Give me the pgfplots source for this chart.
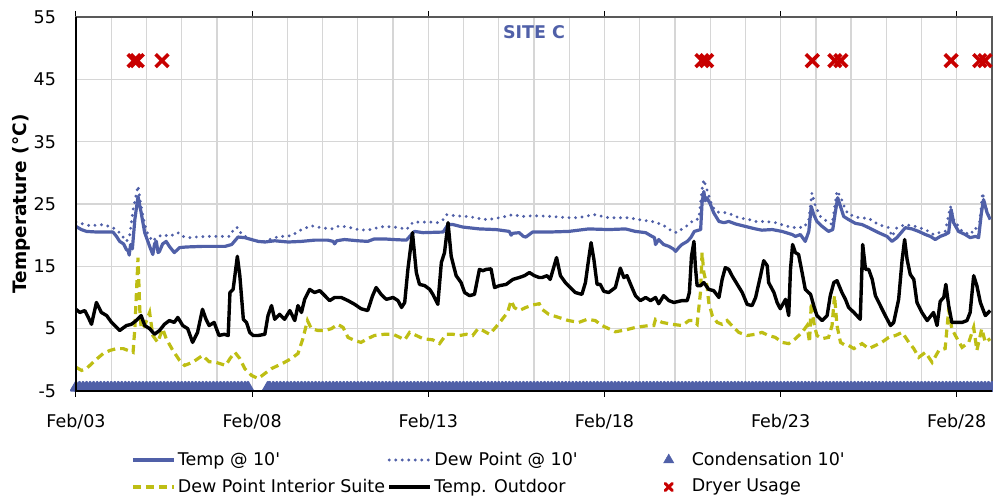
\documentclass[border=0pt]{standalone}
\usepackage{fontspec}
\setmainfont{DejaVu Sans}[Ligatures=TeXOff]
\usepackage{pgfplots}
\pgfplotsset{compat=1.18}
\definecolor{cblue}{RGB}{80,96,168}
\definecolor{cyel}{RGB}{190,190,20}
\definecolor{cred}{RGB}{200,0,0}
\definecolor{cgrid}{RGB}{214,214,214}
\pgfplotsset{
 linelegend/.style={legend image code/.code={\draw[mark repeat=2,mark phase=2,##1] plot coordinates {(0bp,0bp) (20.5bp,0bp) (41bp,0bp)};}},
 condlegend/.style={legend image code/.code={\path[draw=none,fill=none] (0bp,0bp) -- (41bp,0bp); \draw[##1, mark options={line width=0.4bp}, mark size=6bp] plot coordinates {(20.5bp,0bp)};}},
 drylegend/.style={legend image code/.code={\path[draw=none,fill=none] (0bp,0bp) -- (41bp,0bp); \begin{scope}[shift={(20.5bp,0bp)}]\pgfsetlinewidth{3bp}\pgfsetroundcap\pgfsetstrokecolor{cred}\pgfsetplotmarksize{5bp}\pgfuseplotmark{x}\end{scope}}},
}
\begin{document}
\fontsize{17.5bp}{21bp}\selectfont
\begin{tikzpicture}
\begin{axis}[
 name=ax,
 scale only axis, width=916bp, height=374bp,
 xmin=0, xmax=26, ymin=-5, ymax=55,
 xtick={0,5,10,15,20,25},
 xticklabels={Feb/03,Feb/08,Feb/13,Feb/18,Feb/23,Feb/28},
 minor xtick={1,2,3,4,6,7,8,9,11,12,13,14,16,17,18,19,21,22,23,24},
 ytick={-5,5,15,25,35,45,55},
 yticklabels={-5,5,15,25,35,45,55},
 grid=both,
 grid style={cgrid, line width=1.3bp},
 minor grid style={cgrid, line width=1.3bp},
 tick align=outside,
 major tick length=6bp, minor tick length=0pt,
 ytick style={draw=none},
 xtick style={black, line width=1bp},
 axis line style={draw=gray!70!black, line width=1.2bp},
 xticklabel style={yshift=-11bp},
 yticklabel style={xshift=-8bp},
 title={\bfseries SITE C},
 title style={at={(0.5,1)}, anchor=north, yshift=-8bp, text=cblue},
 ylabel={\bfseries Temperature (°C)},
 ylabel style={font=\fontsize{18.5bp}{22bp}\selectfont},
 ylabel shift=-9bp,
 legend columns=3,
 legend cell align=left,
 legend style={at={(0.06,-0.156)}, anchor=north west, draw=none, fill=none, inner sep=0pt, row sep=6bp, nodes={inner sep=2.5bp}, /tikz/column 4/.style={column sep=68bp}},
 linelegend,
]
\addplot[cblue, line width=3.2bp, line join=round] coordinates {
(0,21.4)(0.15,20.9)(0.30,20.6)(0.6,20.5)(1.05,20.5)(1.15,19.8)(1.24,19.0)(1.35,18.6)(1.43,17.7)(1.48,17.5)(1.51,16.8)(1.55,18.5)(1.60,17.8)(1.67,22.5)(1.76,26.2)(1.85,23.6)(1.95,20.4)(2.04,19.0)(2.09,18.2)(2.18,16.9)(2.23,18.6)(2.28,19.0)(2.33,17.2)(2.37,17.4)(2.46,18.6)(2.56,19.0)(2.65,18.2)(2.79,17.2)(2.94,18.0)(3.12,18.1)(3.59,18.2)(4.23,18.2)(4.42,18.5)(4.60,19.7)(4.79,19.6)(4.98,19.3)(5.17,19.0)(5.36,18.9)(5.64,19.1)(6.02,18.9)(6.40,19.0)(6.77,19.2)(7.15,19.2)(7.30,19.0)(7.34,18.6)(7.40,19.1)(7.62,19.3)(8.0,19.1)(8.28,19.0)(8.47,19.4)(8.75,19.4)(9.0,19.3)(9.38,19.2)(9.52,20.1)(9.61,20.6)(9.85,20.4)(10.42,20.5)(10.56,21.7)(10.70,21.7)(10.98,21.3)(11.45,21.0)(11.92,20.9)(12.30,20.6)(12.35,20.0)(12.40,20.3)(12.58,20.4)(12.70,19.8)(12.77,19.7)(12.96,20.5)(13.15,20.5)(13.42,20.5)(13.98,20.6)(14.55,21.0)(15.12,20.9)(15.60,21.0)(15.88,20.6)(16.17,20.4)(16.35,19.8)(16.42,19.6)(16.45,18.5)(16.54,19.3)(16.68,18.5)(16.83,18.2)(16.95,17.8)(17.02,17.4)(17.11,18.0)(17.20,18.5)(17.35,19.0)(17.45,19.6)(17.55,20.6)(17.73,20.9)(17.77,25.2)(17.82,27.0)(17.86,25.5)(17.91,26.0)(18.01,24.9)(18.10,23.6)(18.25,22.2)(18.39,22.0)(18.53,22.2)(18.72,21.8)(19.0,21.4)(19.29,21.0)(19.47,20.8)(19.76,20.9)(20.04,20.6)(20.33,20.1)(20.42,19.8)(20.56,20.1)(20.70,19.0)(20.80,20.6)(20.87,24.6)(20.94,23.3)(21.03,22.2)(21.18,21.4)(21.36,20.6)(21.48,20.9)(21.55,23.6)(21.62,26.0)(21.70,24.6)(21.79,23.0)(21.93,22.5)(22.12,21.9)(22.31,21.7)(22.50,21.2)(22.78,20.4)(23.02,19.8)(23.16,19.0)(23.30,19.6)(23.54,21.2)(23.73,21.0)(23.92,20.6)(24.11,20.1)(24.25,19.8)(24.39,19.3)(24.53,19.8)(24.67,20.1)(24.77,20.4)(24.84,24.1)(24.91,22.0)(25.05,20.6)(25.24,20.1)(25.38,19.6)(25.53,19.8)(25.62,19.6)(25.70,23.6)(25.76,25.7)(25.86,23.6)(25.95,22.5)
};
\addlegendentry{Temp @ 10'}
\addplot[cblue, line width=3.2bp, line cap=round, dash pattern=on 0bp off 6.5bp] coordinates {
(0,22.1)(0.40,21.5)(0.77,21.7)(1.05,21.2)(1.24,20.4)(1.43,19.0)(1.52,19.8)(1.62,24.1)(1.76,27.9)(1.85,24.6)(1.95,21.7)(2.04,20.1)(2.18,19.0)(2.28,19.6)(2.46,20.1)(2.65,19.8)(2.89,20.4)(3.03,19.8)(3.22,19.6)(3.41,19.7)(3.78,19.8)(4.35,19.8)(4.42,20.4)(4.51,21.2)(4.60,21.2)(4.70,20.1)(4.98,19.3)(5.17,19.0)(5.36,19.0)(5.64,19.6)(5.83,19.8)(6.11,19.9)(6.40,20.9)(6.68,21.5)(6.96,21.2)(7.25,21.0)(7.48,21.5)(7.72,21.3)(8.0,20.9)(8.28,20.8)(8.57,21.2)(8.75,21.4)(9.0,21.3)(9.19,21.2)(9.38,20.9)(9.57,22.1)(9.75,22.1)(10.13,22.1)(10.27,22.0)(10.42,22.5)(10.51,23.3)(10.79,23.1)(11.08,23.0)(11.36,22.8)(11.55,22.5)(11.83,22.6)(12.11,22.9)(12.40,23.3)(12.68,23.0)(12.96,23.1)(13.15,23.1)(13.51,23.0)(13.98,22.8)(14.27,22.8)(14.70,23.3)(15.12,22.8)(15.69,22.8)(16.07,22.4)(16.35,22.2)(16.64,21.7)(16.78,21.2)(16.92,20.6)(17.06,20.4)(17.25,21.2)(17.40,21.7)(17.54,22.5)(17.68,22.6)(17.77,27.3)(17.82,28.9)(17.91,27.3)(18.06,24.6)(18.20,23.7)(18.43,23.6)(18.62,23.3)(18.81,22.8)(19.10,22.5)(19.29,22.2)(19.57,22.2)(19.85,22.0)(20.14,21.5)(20.33,21.2)(20.51,21.3)(20.66,21.2)(20.80,22.5)(20.89,26.8)(20.99,24.6)(21.13,23.0)(21.32,22.2)(21.46,21.7)(21.55,25.2)(21.60,27.1)(21.70,26.2)(21.84,24.1)(21.93,23.3)(22.08,23.1)(22.22,22.8)(22.50,22.7)(22.78,21.7)(23.07,21.2)(23.16,19.8)(23.30,21.2)(23.54,21.7)(23.82,21.4)(24.11,20.9)(24.34,20.1)(24.49,20.4)(24.67,20.6)(24.82,24.6)(24.91,22.5)(25.15,20.6)(25.38,20.1)(25.53,21.2)(25.62,20.1)(25.73,26.8)(25.86,23.6)(25.95,22.8)
};
\addlegendentry{Dew Point @ 10'}
\addplot[only marks, mark=triangle*, mark size=5.6bp, cblue, mark options={yshift=3.3bp, line width=2.4bp, line join=round}, condlegend] coordinates {
(0,-5)(0.1,-5)(0.2,-5)(0.3,-5)(0.4,-5)(0.5,-5)(0.6,-5)(0.7,-5)(0.8,-5)(0.9,-5)(1.0,-5)(1.1,-5)(1.2,-5)(1.3,-5)(1.4,-5)(1.5,-5)(1.6,-5)(1.7,-5)(1.8,-5)(1.9,-5)(2.0,-5)(2.1,-5)(2.2,-5)(2.3,-5)(2.4,-5)(2.5,-5)(2.6,-5)(2.7,-5)(2.8,-5)(2.9,-5)(3.0,-5)(3.1,-5)(3.2,-5)(3.3,-5)(3.4,-5)(3.5,-5)(3.6,-5)(3.7,-5)(3.8,-5)(3.9,-5)(4.0,-5)(4.1,-5)(4.2,-5)(4.3,-5)(4.4,-5)(4.5,-5)(4.6,-5)(4.7,-5)(4.8,-5)(4.88,-5)
(5.45,-5)(5.5,-5)(5.6,-5)(5.7,-5)(5.8,-5)(5.9,-5)(6.0,-5)(6.1,-5)(6.2,-5)(6.3,-5)(6.4,-5)(6.5,-5)(6.6,-5)(6.7,-5)(6.8,-5)(6.9,-5)(7.0,-5)(7.1,-5)(7.2,-5)(7.3,-5)(7.4,-5)(7.5,-5)(7.6,-5)(7.7,-5)(7.8,-5)(7.9,-5)(8.0,-5)(8.1,-5)(8.2,-5)(8.3,-5)(8.4,-5)(8.5,-5)(8.6,-5)(8.7,-5)(8.8,-5)(8.9,-5)(9.0,-5)(9.1,-5)(9.2,-5)(9.3,-5)(9.4,-5)(9.5,-5)(9.6,-5)(9.7,-5)(9.8,-5)(9.9,-5)(10.0,-5)(10.1,-5)(10.2,-5)(10.3,-5)(10.4,-5)(10.5,-5)(10.6,-5)(10.7,-5)(10.8,-5)(10.9,-5)(11.0,-5)(11.1,-5)(11.2,-5)(11.3,-5)(11.4,-5)(11.5,-5)(11.6,-5)(11.7,-5)(11.8,-5)(11.9,-5)(12.0,-5)(12.1,-5)(12.2,-5)(12.3,-5)(12.4,-5)(12.5,-5)(12.6,-5)(12.7,-5)(12.8,-5)(12.9,-5)(13.0,-5)(13.1,-5)(13.2,-5)(13.3,-5)(13.4,-5)(13.5,-5)(13.6,-5)(13.7,-5)(13.8,-5)(13.9,-5)(14.0,-5)(14.1,-5)(14.2,-5)(14.3,-5)(14.4,-5)(14.5,-5)(14.6,-5)(14.7,-5)(14.8,-5)(14.9,-5)(15.0,-5)(15.1,-5)(15.2,-5)(15.3,-5)(15.4,-5)(15.5,-5)(15.6,-5)(15.7,-5)(15.8,-5)(15.9,-5)(16.0,-5)(16.1,-5)(16.2,-5)(16.3,-5)(16.4,-5)(16.5,-5)(16.6,-5)(16.7,-5)(16.8,-5)(16.9,-5)(17.0,-5)(17.1,-5)(17.2,-5)(17.3,-5)(17.4,-5)(17.5,-5)(17.6,-5)(17.7,-5)(17.8,-5)(17.9,-5)(18.0,-5)(18.1,-5)(18.2,-5)(18.3,-5)(18.4,-5)(18.5,-5)(18.6,-5)(18.7,-5)(18.8,-5)(18.9,-5)(19.0,-5)(19.1,-5)(19.2,-5)(19.3,-5)(19.4,-5)(19.5,-5)(19.6,-5)(19.7,-5)(19.8,-5)(19.9,-5)(20.0,-5)(20.1,-5)(20.2,-5)(20.3,-5)(20.4,-5)(20.5,-5)(20.6,-5)(20.7,-5)(20.8,-5)(20.9,-5)(21.0,-5)(21.1,-5)(21.2,-5)(21.3,-5)(21.4,-5)(21.5,-5)(21.6,-5)(21.7,-5)(21.8,-5)(21.9,-5)(22.0,-5)(22.1,-5)(22.2,-5)(22.3,-5)(22.4,-5)(22.5,-5)(22.6,-5)(22.7,-5)(22.8,-5)(22.9,-5)(23.0,-5)(23.1,-5)(23.2,-5)(23.3,-5)(23.4,-5)(23.5,-5)(23.6,-5)(23.7,-5)(23.8,-5)(23.9,-5)(24.0,-5)(24.1,-5)(24.2,-5)(24.3,-5)(24.4,-5)(24.5,-5)(24.6,-5)(24.7,-5)(24.8,-5)(24.9,-5)(25.0,-5)(25.1,-5)(25.2,-5)(25.3,-5)(25.4,-5)(25.5,-5)(25.6,-5)(25.7,-5)(25.8,-5)(25.9,-5)(26.0,-5)
};
\addlegendentry{Condensation 10'}
\addplot[cyel, line width=3.2bp, dash pattern=on 8bp off 5bp] coordinates {
(0,-1.2)(0.16,-1.7)(0.30,-1.4)(0.54,-0.1)(0.77,1.0)(0.96,1.5)(1.15,1.8)(1.34,1.8)(1.48,1.5)(1.62,1.2)(1.67,5.0)(1.76,16.4)(1.81,8.1)(1.85,5.0)(1.95,5.5)(2.09,7.6)(2.18,3.9)(2.32,2.8)(2.46,5.0)(2.56,3.4)(2.75,1.5)(2.94,-0.1)(3.08,-0.9)(3.31,-0.4)(3.59,0.7)(3.78,-0.3)(3.97,-0.4)(4.25,-0.9)(4.37,0.2)(4.51,1.2)(4.65,0.2)(4.79,-1.4)(4.98,-2.5)(5.17,-3.0)(5.36,-2.2)(5.55,-1.4)(5.74,-0.9)(5.92,-0.4)(6.11,0.2)(6.30,1.0)(6.44,3.4)(6.57,6.3)(6.68,5.0)(6.87,4.7)(7.06,4.7)(7.25,5.0)(7.43,5.7)(7.58,5.2)(7.72,3.6)(7.91,3.1)(8.09,2.8)(8.28,3.4)(8.47,3.9)(8.75,4.1)(9.0,4.1)(9.19,3.6)(9.33,3.2)(9.47,4.4)(9.66,3.9)(9.85,3.4)(10.13,3.2)(10.32,2.6)(10.51,4.1)(10.70,4.1)(10.89,3.9)(11.08,4.1)(11.26,3.9)(11.41,5.0)(11.55,4.7)(11.74,4.1)(11.88,5.0)(12.07,6.3)(12.25,7.6)(12.35,9.5)(12.44,8.4)(12.58,7.9)(12.77,8.4)(12.96,8.8)(13.15,9.0)(13.23,8.1)(13.42,7.3)(13.70,6.8)(13.98,6.3)(14.27,6.0)(14.51,6.5)(14.74,6.3)(14.93,5.5)(15.31,4.5)(15.60,4.8)(15.88,5.2)(16.26,5.5)(16.40,5.5)(16.45,6.5)(16.64,6.0)(16.92,5.7)(17.20,5.5)(17.40,6.3)(17.51,6.3)(17.63,5.7)(17.73,11.1)(17.77,17.2)(17.82,14.0)(17.91,11.9)(17.96,9.2)(18.06,7.1)(18.20,6.0)(18.34,5.7)(18.48,6.3)(18.62,5.5)(18.81,4.4)(19.05,3.9)(19.29,4.1)(19.47,4.4)(19.66,3.9)(19.85,3.6)(20.04,2.8)(20.23,2.6)(20.42,3.4)(20.61,4.4)(20.75,5.5)(20.82,2.8)(20.87,9.2)(20.94,6.0)(21.03,3.9)(21.18,3.4)(21.36,3.6)(21.46,5.5)(21.53,10.3)(21.60,5.5)(21.70,2.8)(21.84,2.3)(21.93,2.3)(22.08,1.8)(22.31,2.6)(22.50,1.8)(22.69,2.3)(22.87,2.8)(23.07,3.6)(23.26,3.9)(23.45,4.4)(23.64,2.8)(23.78,1.8)(23.92,0.4)(24.11,1.2)(24.30,-0.4)(24.49,1.5)(24.67,1.8)(24.77,8.1)(24.86,5.0)(24.96,3.9)(25.15,2.0)(25.34,2.8)(25.48,5.2)(25.57,1.5)(25.71,5.0)(25.81,2.8)(25.95,3.4)
};
\addlegendentry{Dew Point Interior Suite}
\addplot[black, line width=3.4bp, line join=round] coordinates {
(0,8.1)(0.11,7.6)(0.25,7.9)(0.35,6.8)(0.44,5.7)(0.58,9.2)(0.72,7.6)(0.87,7.1)(1.01,6.0)(1.24,4.7)(1.43,5.5)(1.57,5.7)(1.71,6.3)(1.85,7.1)(1.95,5.5)(2.09,5.0)(2.23,4.1)(2.37,4.7)(2.51,5.7)(2.65,6.3)(2.79,6.0)(2.89,6.8)(3.03,5.5)(3.17,5.0)(3.31,2.8)(3.45,4.4)(3.59,8.1)(3.69,6.5)(3.78,5.5)(3.92,6.0)(4.06,3.9)(4.21,4.1)(4.32,3.9)(4.37,10.8)(4.46,11.3)(4.58,16.6)(4.65,13.5)(4.75,6.5)(4.84,6.0)(4.93,4.4)(5.03,3.9)(5.17,3.9)(5.36,4.1)(5.45,7.1)(5.55,8.7)(5.64,6.5)(5.78,7.3)(5.92,6.5)(6.07,7.9)(6.21,6.3)(6.30,8.7)(6.40,7.6)(6.49,9.7)(6.63,11.3)(6.77,10.8)(6.92,11.1)(7.06,10.3)(7.20,9.5)(7.34,10.0)(7.53,10.0)(7.72,9.5)(7.91,8.9)(8.09,8.2)(8.28,7.9)(8.42,10.3)(8.52,11.6)(8.66,10.5)(8.75,10.0)(8.81,9.7)(9.0,10.0)(9.14,9.5)(9.24,8.4)(9.33,9.2)(9.42,14.5)(9.55,20.4)(9.66,14.0)(9.75,12.1)(9.90,11.9)(10.04,11.3)(10.13,10.5)(10.27,8.9)(10.37,15.6)(10.46,17.2)(10.56,22.0)(10.65,16.6)(10.79,13.5)(10.93,12.4)(11.03,10.8)(11.17,10.3)(11.31,10.5)(11.45,14.5)(11.55,14.3)(11.64,14.5)(11.78,14.6)(11.88,11.6)(12.02,11.9)(12.21,12.1)(12.40,12.9)(12.58,13.2)(12.73,13.5)(12.87,14.0)(13.01,13.5)(13.15,13.2)(13.23,13.2)(13.37,13.5)(13.46,12.9)(13.64,16.4)(13.75,13.5)(13.89,12.4)(14.03,11.6)(14.17,10.8)(14.36,10.5)(14.46,12.4)(14.55,16.1)(14.62,18.8)(14.70,16.1)(14.79,12.1)(14.88,12.1)(14.98,11.0)(15.12,10.8)(15.31,11.6)(15.45,14.7)(15.55,13.2)(15.64,13.5)(15.78,11.6)(15.88,10.3)(16.02,9.5)(16.17,10.0)(16.31,9.5)(16.45,10.0)(16.54,9.0)(16.68,10.3)(16.83,9.5)(16.97,9.2)(17.20,9.5)(17.35,9.5)(17.41,10.8)(17.47,16.6)(17.54,19.0)(17.58,15.0)(17.63,11.9)(17.73,11.9)(17.82,12.4)(17.96,11.3)(18.10,11.1)(18.25,10.0)(18.34,12.9)(18.43,14.8)(18.53,14.5)(18.62,13.5)(18.77,12.1)(18.91,10.8)(19.05,8.9)(19.19,8.7)(19.29,10.0)(19.43,13.5)(19.52,15.9)(19.62,15.1)(19.66,12.4)(19.81,10.8)(19.90,9.2)(19.99,8.2)(20.14,9.7)(20.23,7.1)(20.28,14.5)(20.34,18.5)(20.42,17.2)(20.51,16.9)(20.61,14.0)(20.70,11.3)(20.85,10.5)(20.94,8.7)(21.03,7.1)(21.18,6.3)(21.32,7.1)(21.41,10.3)(21.51,12.4)(21.60,12.7)(21.74,10.8)(21.84,9.7)(21.93,8.4)(22.08,7.6)(22.26,6.5)(22.33,18.5)(22.41,14.5)(22.50,14.5)(22.60,12.9)(22.69,10.3)(22.83,8.7)(22.97,7.1)(23.12,5.5)(23.21,6.0)(23.35,9.7)(23.45,16.1)(23.52,19.3)(23.59,16.1)(23.68,13.7)(23.78,12.9)(23.87,9.2)(24.01,7.6)(24.16,6.3)(24.34,7.6)(24.44,5.5)(24.53,9.4)(24.63,10.0)(24.69,12.1)(24.77,8.7)(24.86,6.0)(25.01,6.0)(25.15,6.0)(25.29,6.3)(25.38,7.6)(25.48,13.5)(25.57,11.9)(25.67,9.2)(25.81,7.1)(25.95,7.9)
};
\addlegendentry{Temp. Outdoor}
\addplot[only marks, mark=x, mark size=9bp, cred, mark options={line width=3.6bp}, drylegend] coordinates {
(1.65,48)(1.74,48)(2.44,48)(17.77,48)(17.90,48)(20.90,48)(21.54,48)(21.71,48)(24.84,48)(25.65,48)(25.80,48)
};
\addlegendentry{Dryer Usage}
\end{axis}
\draw[black, line width=1.2bp] (ax.north west) -- (ax.south west) -- (ax.south east);
\pgfresetboundingbox
\useasboundingbox ([xshift=-76bp,yshift=-105bp]ax.south west) rectangle ([xshift=1bp,yshift=17bp]ax.north east);
\end{tikzpicture}
\end{document}
